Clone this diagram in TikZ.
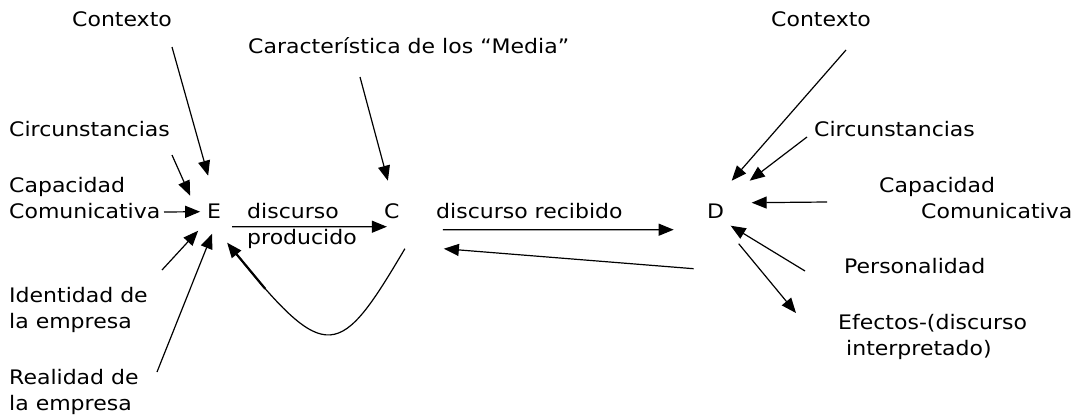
\documentclass[tikz,border=0pt]{standalone}
\usepackage{fontspec}
\setmainfont{DejaVu Sans}[FakeStretch=1.1]
\usepackage{tikz}
\usetikzlibrary{arrows.meta}

\begin{document}
\begin{tikzpicture}[x=1pt,y=-1pt,
		lbl/.style={anchor=base west,inner sep=0pt,align=left,font=\fontsize{20}{26}\selectfont},
		arr/.style={line width=1.2pt,-{Triangle[length=15pt,width=12pt]}}]
		\useasboundingbox (0,0) rectangle (1078,415);
		% E side
		\node[lbl] (ctxE) at (72,27) {Contexto};
		\node[lbl] (circE) at (9,136) {Circunstancias};
		\node[lbl] (capE) at (9,218) {Capacidad\\Comunicativa};
		\node[lbl] (identE) at (9,328) {Identidad de\\la empresa};
		\node[lbl] (realE) at (9,410) {Realidad de\\la empresa};
		\node[lbl] (E) at (207,218) {E};
		\node[lbl] (prod) at (247,244) {discurso\\producido};
		% C
		\node[lbl] (media) at (248,53) {Característica de los “Media”};
		\node[lbl] (C) at (384,218) {C};
		\node[lbl] (recib) at (436,218) {discurso recibido};
		% D side
		\node[lbl] (D) at (707,218) {D};
		\node[lbl] (ctxD) at (771,27) {Contexto};
		\node[lbl] (circD) at (814,136) {Circunstancias};
		\node[lbl] (capD) at (879,218) {Capacidad\\\hspace*{42pt}Comunicativa};
		\node[lbl] (persD) at (844,273) {Personalidad};
		\node[lbl] (efD) at (838,355) {Efectos-(discurso\\\hspace*{8pt}interpretado)};
		% arrows into E
		\draw[arr] ([shift={(100,20)}]ctxE.base west) -- ([shift={(-6,-35)}]E.center);
		\draw[arr] ([shift={(163,19)}]circE.base west) -- ([shift={(-24,-15)}]E.center);
		\draw[arr] ([shift={(155,-6)}]capE.base west) -- ([shift={(-14,1)}]E.center);
		\draw[arr] ([shift={(153,-58)}]identE.base west) -- ([shift={(-16,20)}]E.center);
		\draw[arr] ([shift={(148,-38)}]realE.base west) -- ([shift={(-2,23)}]E.center);
		% E - C - D
		\draw[arr] ([shift={(18,16)}]E.center) -- ([shift={(-5,16)}]C.center);
		\draw[arr] ([shift={(112,24)}]media.base west) -- ([shift={(-4,-30)}]C.center);
		\draw[arr] ([shift={(13,38)}]C.center) .. controls +(-65,110) and +(100,124) .. ([shift={(13,32)}]E.center);
		\draw[line width=2.2pt] ([shift={(22,43)}]E.center) -- ([shift={(51,78)}]E.center);
		\draw[arr] ([shift={(51,19)}]C.center) -- ([shift={(-42,19)}]D.center);
		\draw[arr] ([shift={(-22,58)}]D.center) -- ([shift={(52,38)}]C.center);
		% arrows at D
		\draw[arr] ([shift={(75,23)}]ctxD.base west) -- ([shift={(16,-30)}]D.center);
		\draw[arr] ([shift={(-7,1)}]circD.base west) -- ([shift={(34,-30)}]D.center);
		\draw[arr] ([shift={(-52,-16)}]capD.base west) -- ([shift={(36,-8)}]D.center);
		\draw[arr] ([shift={(-39,-2)}]persD.base west) -- ([shift={(15,15)}]D.center);
		\draw[arr] ([shift={(23,33)}]D.center) -- ([shift={(-42,-42)}]efD.base west);
	\end{tikzpicture}
\end{document}
